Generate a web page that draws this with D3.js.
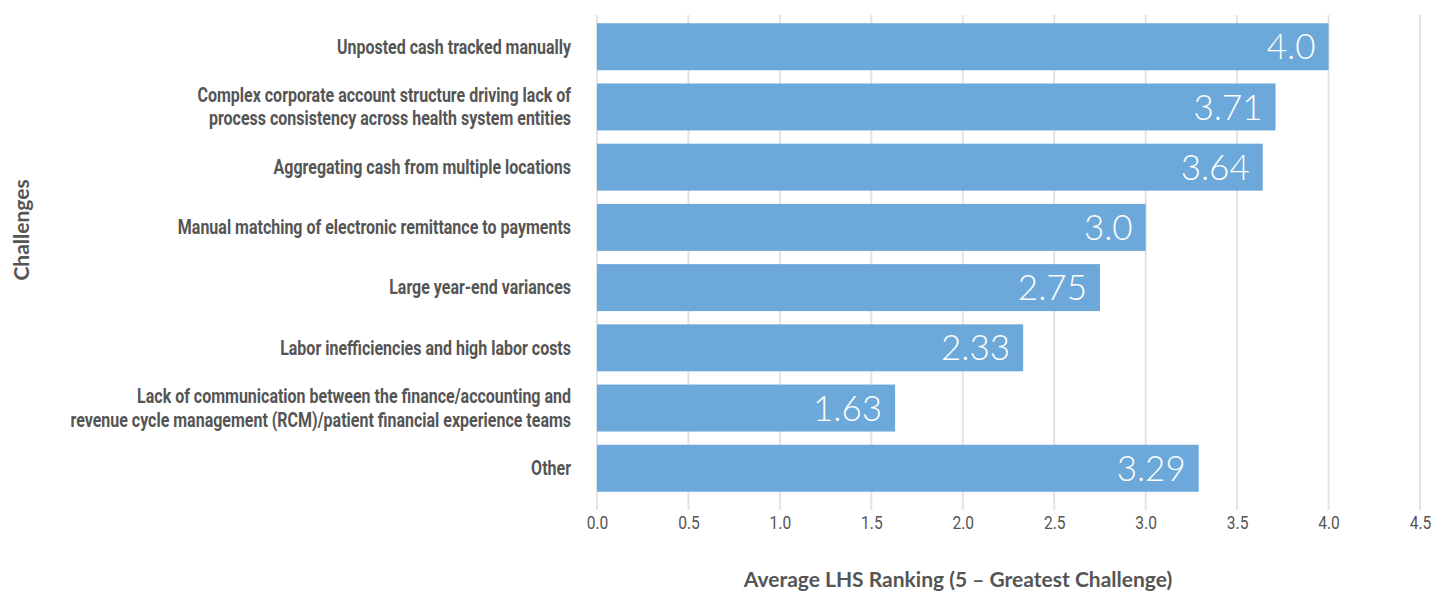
<!DOCTYPE html>
<html>
<head>
<meta charset="utf-8">
<script src="https://cdn.jsdelivr.net/npm/d3@7"></script>
<style>
  body { margin: 0; background: #fff; }
  .cat { font-family: Roboto, "Open Sans", sans-serif; font-weight: bold; font-size: 19.5px; fill: #555; }
  .tick text { font-family: Roboto, "Open Sans", sans-serif; font-size: 19px; fill: #555; }
  .title { font-family: Lato, "Open Sans", sans-serif; font-weight: bold; font-size: 21px; fill: #555; }
  .val { font-family: Lato, "Open Sans", sans-serif; font-weight: 300; font-size: 35px; fill: #fff; }
</style>
</head>
<body>
<svg id="chart" width="1448" height="595"></svg>
<script>
// challenges, top to bottom (labels may carry a line break)
var categories = [
	["Unposted cash tracked manually"],
	["Complex corporate account structure driving lack of", "process consistency across health system entities"],
	["Aggregating cash from multiple locations"],
	["Manual matching of electronic remittance to payments"],
	["Large year-end variances"],
	["Labor inefficiencies and high labor costs"],
	["Lack of communication between the finance/accounting and", "revenue cycle management (RCM)/patient financial experience teams"],
	["Other"]
];
var values = [4.0, 3.71, 3.64, 3.0, 2.75, 2.33, 1.63, 3.29];
var valueLabels = ["4.0", "3.71", "3.64", "3.0", "2.75", "2.33", "1.63", "3.29"];
var xTicks = [0, 0.5, 1, 1.5, 2, 2.5, 3, 3.5, 4, 4.5];

// the reference uses a condensed face; squeeze a regular one horizontally
var condense = 0.82;

var svg = d3.select("#chart");

var margin = { left: 597, right: 28, top: 10, bottom: 90 };
var height = 595 - margin.top - margin.bottom;

var g = svg.append("g")
	.attr("transform", "translate(" + margin.left + "," + margin.top + ")");

var x = d3.scaleLinear()
	.domain([0, 4.5])
	.range([0, 823]);

var y = d3.scaleBand()
	.domain(d3.range(categories.length))
	.range([0, height])
	.padding(0.22);

// gridlines
g.selectAll("line.grid")
	.data(xTicks)
	.enter()
	.append("line")
	.attr("class", "grid")
	.attr("x1", d => x(d))
	.attr("x2", d => x(d))
	.attr("y1", 5)
	.attr("y2", height + 5)
	.attr("stroke", "#e3e3e3")
	.attr("stroke-width", 2);

// bars
g.selectAll("rect.bar")
	.data(values)
	.enter()
	.append("rect")
	.attr("class", "bar")
	.attr("x", 0)
	.attr("y", (d, i) => y(i))
	.attr("width", d => x(d))
	.attr("height", y.bandwidth())
	.attr("fill", "#6ca8da");

// value labels inside the bars
g.selectAll("text.val")
	.data(values)
	.enter()
	.append("text")
	.attr("class", "val")
	.attr("x", d => x(d) - 13)
	.attr("y", (d, i) => y(i) + y.bandwidth() / 2)
	.attr("dy", "0.36em")
	.attr("text-anchor", "end")
	.text((d, i) => valueLabels[i]);

// x axis
var xAxis = d3.axisBottom(x)
	.tickValues(xTicks)
	.tickFormat(d3.format(".1f"))
	.tickSize(0)
	.tickPadding(11);

g.append("g")
	.attr("class", "xAxis")
	.attr("transform", "translate(0," + height + ")")
	.call(xAxis)
	.call(a => a.select(".domain").remove())
	.selectAll(".tick text")
	.attr("transform", "scale(" + condense + ",1)");

// category labels
var cat = g.selectAll("text.cat")
	.data(categories)
	.enter()
	.append("text")
	.attr("class", "cat")
	.attr("text-anchor", "end")
	.attr("transform", (d, i) => "translate(-26," + (y(i) + y.bandwidth() / 2) + ") scale(" + condense + ",1)");

cat.selectAll("tspan")
	.data(d => d)
	.enter()
	.append("tspan")
	.attr("x", 0)
	.attr("dy", (d, i, n) => i === 0 ? (0.35 - (n.length - 1) * 0.6) + "em" : "1.2em")
	.text(d => d);

// axis titles
svg.append("text")
	.attr("class", "title")
	.attr("text-anchor", "middle")
	.attr("x", 958)
	.attr("y", 587)
	.text("Average LHS Ranking (5 \u2013 Greatest Challenge)");

svg.append("text")
	.attr("class", "title")
	.attr("text-anchor", "middle")
	.attr("font-size", 22)
	.attr("transform", "translate(29,230) rotate(-90)")
	.text("Challenges");
</script>
</body>
</html>
